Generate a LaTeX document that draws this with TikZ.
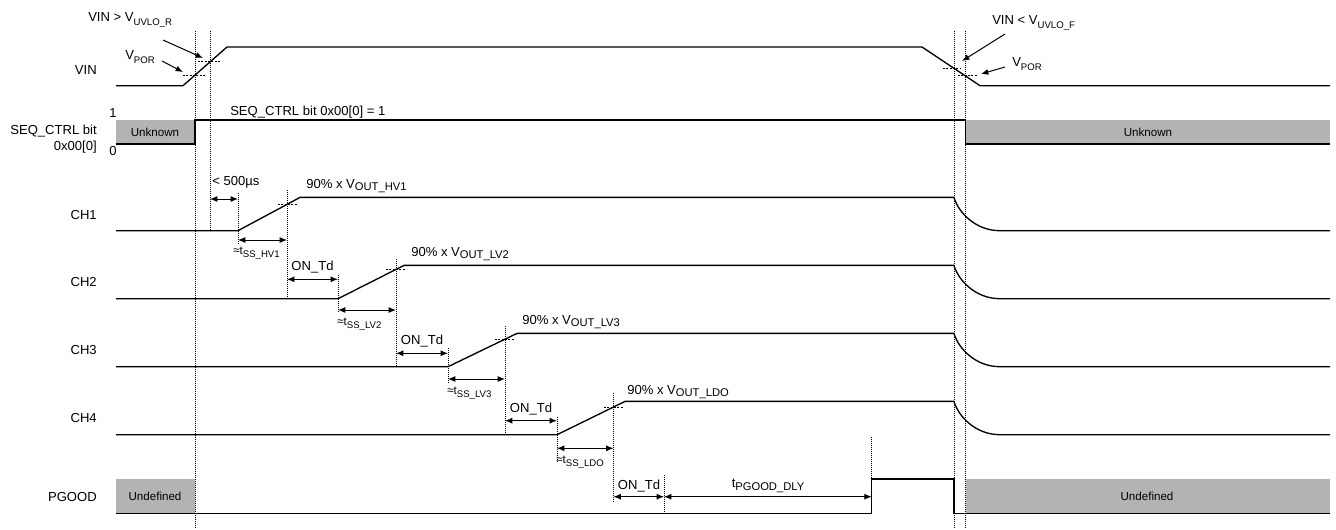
\documentclass[tikz,border=0pt]{standalone}
\usepackage{fontspec}
\setmainfont{Liberation Sans}
\usetikzlibrary{arrows.meta, calc}

\definecolor{unkgray}{RGB}{179,179,179}
\newcommand{\lowsub}[1]{\raisebox{-0.45ex}{\fontsize{7.2}{8}\selectfont #1}}
\newcommand{\outsub}[1]{\raisebox{-0.4ex}{\fontsize{8.4}{9}\selectfont #1}}

\begin{document}
\begin{tikzpicture}[
    x=0.75pt, y=-0.75pt,
    signal/.style={line width=1pt, line join=miter},
    guide/.style={dash pattern=on 0.75pt off 0.75pt, line width=0.6pt},
    level/.style={dash pattern=on 1.5pt off 1pt, line width=0.6pt},
    dimarrow/.style={{Latex[length=5.5pt,width=4.5pt]}-{Latex[length=5.5pt,width=4.5pt]}, line width=0.75pt},
    pointer/.style={-{Latex[length=5.5pt,width=4.5pt]}, line width=0.75pt},
    siglabel/.style={anchor=east, inner sep=0pt, font=\fontsize{9.8}{12}\selectfont, align=right},
    note/.style={inner sep=0pt, font=\fontsize{9.8}{12}\selectfont},
    small/.style={inner sep=0pt, font=\fontsize{8.7}{10}\selectfont},
    greybox/.style={fill=unkgray, draw=none}
]
    \useasboundingbox (0,0) rectangle (1336,529);

    % Unknown / Undefined regions
    \fill[greybox] (116,120) rectangle (195,144);
    \fill[greybox] (965.7,120) rectangle (1330,144);
    \fill[greybox] (116,479) rectangle (195,513.3);
    \fill[greybox] (965.7,479) rectangle (1330,513.3);
    \node[small] (unk1) at (155,132) {Unknown};
    \node[small] (unk2) at (1148,132) {Unknown};
    \node[small] (und1) at (155,496.5) {Undefined};
    \node[small] (und2) at (1147,496.5) {Undefined};

    % Signal names
    \node[siglabel] (vinlbl) at (97,70) {VIN};
    \node[siglabel] (seqlbl) at (97,139) {SEQ\_CTRL bit\\0x00[0]};
    \node[note] (one) at (113,113) {1};
    \node[note] (zero) at (113,151) {0};
    \node[siglabel] (ch1lbl) at (97,215) {CH1};
    \node[siglabel] (ch2lbl) at (97,282) {CH2};
    \node[siglabel] (ch3lbl) at (97,350) {CH3};
    \node[siglabel] (ch4lbl) at (97,418) {CH4};
    \node[siglabel] (pglbl) at (97,497) {PGOOD};

    % Vertical guide lines
    \draw[guide] (195,31) -- (195,529);
    \draw[guide] (210,31) -- (210,230.7);
    \draw[guide] (954,31) -- (954,529);
    \draw[guide] (965.7,31) -- (965.7,529);
    \draw[guide] (238,193) -- (238,245);
    \draw[guide] (287,190) -- (287,298.7);
    \draw[guide] (338,275) -- (338,313);
    \draw[guide] (396,259) -- (396,366.7);
    \draw[guide] (448,348) -- (448,383);
    \draw[guide] (505,326) -- (505,434.7);
    \draw[guide] (557,416.7) -- (557,461.7);
    \draw[guide] (613.5,393) -- (613.5,503);
    \draw[guide] (664,475) -- (664,513.3);
    \draw[guide] (871.7,436.7) -- (871.7,479);

    % Threshold crossings
    \draw[level] (183,75) -- (205,75);
    \draw[level] (198,61.5) -- (220,61.5);
    \draw[level] (943,68.5) -- (960,68.5);
    \draw[level] (958,75.5) -- (977,75.5);
    \draw[level] (278,204) -- (298,204);
    \draw[level] (386,269.4) -- (406,269.4);
    \draw[level] (495,339.2) -- (515,339.2);
    \draw[level] (604,407) -- (624,407);

    % VIN
    \draw[signal] (116,85.7) -- (183,85.7) -- (227,47) -- (922,47) -- (980,85.7) -- (1330,85.7);
    \node[note, anchor=west] (uvlor) at (88,20) {VIN > V\lowsub{UVLO\_R}};
    \node[note, anchor=west] (porr) at (125,57) {V\lowsub{POR}};
    \node[note, anchor=west] (uvlof) at (992,23) {VIN < V\lowsub{UVLO\_F}};
    \node[note, anchor=west] (porf) at (1012,64) {V\lowsub{POR}};
    \coordinate (uvlorA) at (163,40);  \coordinate (uvlorB) at (203,58);
    \coordinate (porrA) at (162,61);   \coordinate (porrB) at (183,72);
    \coordinate (uvlofA) at (1005,34); \coordinate (uvlofB) at (962,61);
    \coordinate (porfA) at (1005,67);  \coordinate (porfB) at (981,74);
    \draw[pointer] (uvlorA) -- (uvlorB);
    \draw[pointer] (porrA) -- (porrB);
    \draw[pointer] (uvlofA) -- (uvlofB);
    \draw[pointer] (porfA) -- (porfB);

    % SEQ_CTRL bit
    \draw[signal] (116,144) -- (195,144) -- (195,120) -- (965.7,120) -- (965.7,144) -- (1330,144);
    \node[note, anchor=west] (seqval) at (230,112) {SEQ\_CTRL bit 0x00[0] = 1};

    % CH1
    \draw[signal] (116,230.7) -- (238,230.7) -- (300,197.4) -- (954,197.4)
        .. controls (958,211.7) and (975,230.7) .. (1000,230.7) -- (1330,230.7);
    \coordinate (dlyA) at (210,199);  \coordinate (dlyB) at (238,199);
    \draw[dimarrow] (dlyA) -- (dlyB);
    \node[note, anchor=west] (dlylbl) at (212,182) {< 500µs};
    \coordinate (ss1A) at (238,240);  \coordinate (ss1B) at (287,240);
    \draw[dimarrow] (ss1A) -- (ss1B);
    \node[small, anchor=west] (ss1lbl) at (233,253) {≈t\lowsub{SS\_HV1}};
    \node[note, anchor=west] (v1lbl) at (306,186) {90\% x V\outsub{OUT\_HV1}};

    % CH2
    \draw[signal] (116,298.7) -- (338,298.7) -- (404,265.4) -- (954,265.4)
        .. controls (958,279.7) and (975,298.7) .. (1000,298.7) -- (1330,298.7);
    \coordinate (on2A) at (287,279.3); \coordinate (on2B) at (338,279.3);
    \draw[dimarrow] (on2A) -- (on2B);
    \node[note] (on2lbl) at (312.5,267) {ON\_Td};
    \coordinate (ss2A) at (338,310);  \coordinate (ss2B) at (396,310);
    \draw[dimarrow] (ss2A) -- (ss2B);
    \node[small, anchor=west] (ss2lbl) at (337,324) {≈t\lowsub{SS\_LV2}};
    \node[note, anchor=west] (v2lbl) at (411,254) {90\% x V\outsub{OUT\_LV2}};

    % CH3
    \draw[signal] (116,366.7) -- (448,366.7) -- (517,333.4) -- (954,333.4)
        .. controls (958,347.7) and (975,366.7) .. (1000,366.7) -- (1330,366.7);
    \coordinate (on3A) at (396,353.3); \coordinate (on3B) at (448,353.3);
    \draw[dimarrow] (on3A) -- (on3B);
    \node[note] (on3lbl) at (422,341.5) {ON\_Td};
    \coordinate (ss3A) at (448,379);  \coordinate (ss3B) at (505,379);
    \draw[dimarrow] (ss3A) -- (ss3B);
    \node[small, anchor=west] (ss3lbl) at (447,393) {≈t\lowsub{SS\_LV3}};
    \node[note, anchor=west] (v3lbl) at (522,322) {90\% x V\outsub{OUT\_LV3}};

    % CH4
    \draw[signal] (116,434.7) -- (557,434.7) -- (625,401.4) -- (954,401.4)
        .. controls (958,415.7) and (975,434.7) .. (1000,434.7) -- (1330,434.7);
    \coordinate (on4A) at (505,420.7); \coordinate (on4B) at (557,420.7);
    \draw[dimarrow] (on4A) -- (on4B);
    \node[note] (on4lbl) at (531,409) {ON\_Td};
    \coordinate (ss4A) at (557,448.3); \coordinate (ss4B) at (613.5,448.3);
    \draw[dimarrow] (ss4A) -- (ss4B);
    \node[small, anchor=west] (ss4lbl) at (556,462) {≈t\lowsub{SS\_LDO}};
    \node[note, anchor=west] (v4lbl) at (627,392) {90\% x V\outsub{OUT\_LDO}};

    % PGOOD
    \draw[signal] (116,513.3) -- (871.7,513.3) -- (871.7,479) -- (954,479) -- (954,513.3) -- (1330,513.3);
    \coordinate (on5A) at (613.5,496.7); \coordinate (on5B) at (664,496.7);
    \draw[dimarrow] (on5A) -- (on5B);
    \node[note] (on5lbl) at (639,486) {ON\_Td};
    \coordinate (pgA) at (664,496.7); \coordinate (pgB) at (871.7,496.7);
    \draw[dimarrow] (pgA) -- (pgB);
    \node[note] (pglbl2) at (768,486) {t\outsub{PGOOD\_DLY}};

\end{tikzpicture}
\end{document}
